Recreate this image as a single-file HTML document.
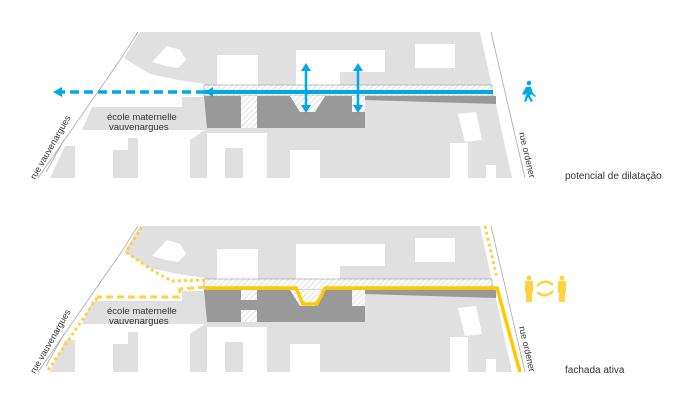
<!DOCTYPE html>
<html><head><meta charset="utf-8"><style>
html,body{margin:0;padding:0;background:#fff;width:700px;height:405px;overflow:hidden}
svg{display:block}
text{font-family:"Liberation Sans",sans-serif;fill:#333}
</style></head><body>
<svg width="700" height="405" viewBox="0 0 700 405" xmlns="http://www.w3.org/2000/svg">
<defs>
<pattern id="h" width="4" height="4" patternUnits="userSpaceOnUse" patternTransform="rotate(45)">
<rect width="4" height="4" fill="#fff"/><line x1="0" y1="0" x2="0" y2="4" stroke="#ccc" stroke-width="1.2"/></pattern>
<g id="map">
<!-- main gray east of x=205 -->
<polygon points="205,32 480,32 512,178 190,178 190,140 205,130" fill="#e0e0e0"/>
<!-- top-left gray -->
<polygon points="140,32 205,32 205,84 178,80 150,74 124,58" fill="#e0e0e0"/>
<polygon points="152,62 167,46 180,50 186,60 178,68 166,66" fill="#fff"/>
<rect x="182" y="97" width="23" height="12" fill="#e0e0e0"/>
<!-- school -->
<polygon points="92,107 205,107 205,130 82,130" fill="#e0e0e0"/>
<!-- lower-left blocks -->
<polygon points="113,150 128,150 128,138 138,138 138,178 113,178" fill="#e0e0e0"/>
<polygon points="65,146 75,146 75,178 50,178" fill="#e0e0e0"/>
<!-- white cutouts in main -->
<rect x="217" y="55" width="41" height="30" fill="#fff"/>
<rect x="296" y="50" width="89" height="22" fill="#fff"/>
<rect x="296" y="72" width="44" height="13" fill="#fff"/>
<rect x="415" y="44" width="40" height="24" fill="#fff"/>
<rect x="207" y="133" width="60" height="45" fill="#fff"/>
<rect x="225" y="148" width="18" height="30" fill="#e0e0e0"/>
<rect x="290" y="150" width="30" height="28" fill="#fff"/>
<polygon points="458,114 476,112 482,140 465,142" fill="#fff"/>
<rect x="450" y="143" width="18" height="35" fill="#fff"/>
<rect x="486" y="165" width="10" height="13" fill="#fff"/>
<!-- streets -->
<polyline points="138,32 120,60 38,178" fill="none" stroke="#aaa" stroke-width="0.8"/>
<polyline points="64,140 46,172" fill="none" stroke="#aaa" stroke-width="0.8"/>
<line x1="491" y1="32" x2="525" y2="178" stroke="#aaa" stroke-width="0.8"/>
<!-- building -->
<rect x="204" y="85" width="288" height="11" fill="url(#h)" stroke="#999" stroke-width="0.6"/>
<polygon points="204,96 496,96 496,104 365,100 365,128 207,128" fill="#999"/>
<text x="107" y="120" font-size="9.5">école maternelle</text>
<text x="109" y="130" font-size="9.5">vauvenargues</text>
<text transform="translate(35,180) rotate(-60)" font-size="9">rue vauvenargues</text>
<text transform="translate(519,133) rotate(77)" font-size="9">rue ordener</text>
</g>
</defs>

<!-- TOP -->
<use href="#map"/>
<rect x="241" y="96" width="16" height="32" fill="url(#h)"/>
<polygon points="290,96 325,96 315,112 300,112" fill="url(#h)"/>
<rect x="352" y="96" width="13" height="16" fill="url(#h)"/>
<line x1="205" y1="92" x2="493" y2="92" stroke="#00a8e8" stroke-width="4"/>
<line x1="205" y1="92" x2="62" y2="92" stroke="#00a8e8" stroke-width="3.5" stroke-dasharray="9,5"/>
<polygon points="53,92 62,87 62,97" fill="#00a8e8"/>
<polygon points="205,92 213,87 213,97" fill="#00a8e8"/>
<g stroke="#00a8e8" stroke-width="2.5" fill="#00a8e8">
<line x1="306" y1="68" x2="306" y2="108"/><line x1="358" y1="68" x2="358" y2="108"/>
</g>
<g fill="#00a8e8">
<polygon points="306,63 301,71 311,71"/><polygon points="306,113 301,105 311,105"/>
<polygon points="358,63 353,71 363,71"/><polygon points="358,113 353,105 363,105"/>
<circle cx="529" cy="83" r="2.3"/>
<path d="M526,87 L531,87 L533,93 L536,96 L535,97 L531,94 L530,96 L533,101 L531,102 L528,97 L526,102 L524,101 L527,93 L525,95 L522,94 Z"/>
</g>
<text x="565" y="179" font-size="10" fill="#222">potencial de dilatação</text>

<!-- BOTTOM -->
<g transform="translate(0,194)"><use href="#map"/></g>
<rect x="241" y="290" width="16" height="10" fill="url(#h)"/>
<rect x="241" y="310" width="16" height="12" fill="url(#h)"/>
<polygon points="290,290 325,290 315,306 300,306" fill="url(#h)"/>
<rect x="352" y="290" width="13" height="16" fill="url(#h)"/>
<polyline points="205,288 296,288 303,304 317,304 325,288 497,288 520,372" fill="none" stroke="#ffc800" stroke-width="3.5"/>
<g fill="none" stroke="#ffd23f" stroke-width="3" stroke-dasharray="3,3">
<polyline points="142,227 126,252 155,272 172,281 205,280"/>
<polyline points="97,298 47,372"/>
<polyline points="485,226 497,278"/>
</g>
<polyline points="205,287 180,289 179,297 97,297" fill="none" stroke="#ffd23f" stroke-width="3" stroke-dasharray="7,4"/>
<g fill="#ffd23f">
<circle cx="529" cy="278" r="2.5"/><rect x="525" y="281" width="8" height="12"/><rect x="526" y="292" width="6" height="10"/>
<circle cx="562" cy="278" r="2.5"/><rect x="558" y="281" width="8" height="12"/><rect x="559" y="292" width="6" height="10"/>
</g>
<path d="M537,286 Q545,278 553,285" fill="none" stroke="#ffd23f" stroke-width="2.5"/>
<path d="M553,291 Q545,299 537,292" fill="none" stroke="#ffd23f" stroke-width="2.5"/>
<text x="565" y="373" font-size="10" fill="#222">fachada ativa</text>
</svg>
</body></html>
